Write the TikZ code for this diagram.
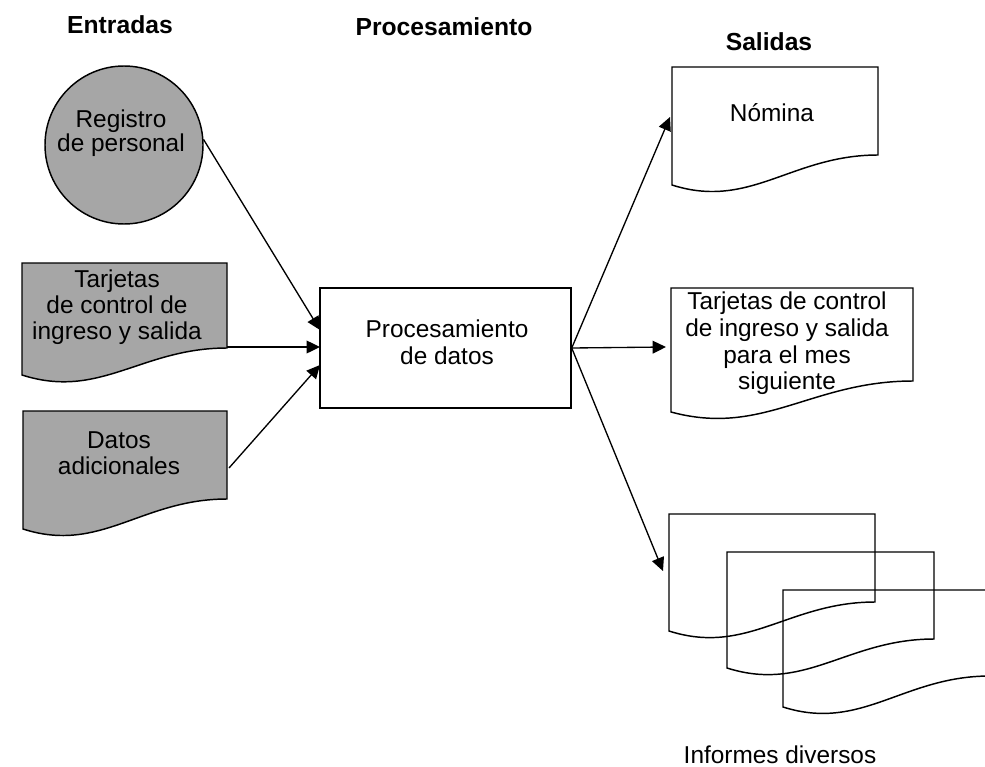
\documentclass[tikz,border=0pt]{standalone}
\usepackage{fontspec}
\setmainfont{Liberation Sans}
\usetikzlibrary{arrows.meta}
\tikzset{
  shapeline/.style={line width=1.1pt, draw=black},
  graydoc/.style={shapeline, fill=gray!70},
  flow/.style={line width=1pt, -{Triangle[length=10pt,width=9.5pt]}},
  body/.style={font=\fontsize{18.3}{20}\selectfont, align=center, inner sep=0pt},
  head/.style={font=\fontsize{18.5}{20}\selectfont\bfseries, inner sep=0pt, anchor=base},
}
% document symbol: x0, ytop, x1, y right bottom, y left bottom
\newcommand\docshape[6][shapeline]{%
  \draw[#1] (#2,#3) -- (#4,#3) -- (#4,#5)
    .. controls ({#2+0.58*(#4-#2)},#5) and ({#2+0.38*(#4-#2)},{#6+25}) .. (#2,#6) -- cycle;}
\begin{document}
\begin{tikzpicture}[x=0.75pt,y=-0.75pt]
\useasboundingbox (0,0) rectangle (985,767);

% headers
\node[head] (hin) at (120,33.4) {Entradas};
\node[head] (hproc) at (444,36) {Procesamiento};
\node[head] (hout) at (769,51) {Salidas};

% inputs
\node[circle, graydoc, minimum size=118.5pt, inner sep=0pt] (reg) at (124,145) {};
\node[body, font=\fontsize{18.3}{18.4}\selectfont] (regt) at (121,133) {Registro\\de personal};

\docshape[graydoc]{22}{263}{227}{348}{375}
\node[body, font=\fontsize{18.3}{19.3}\selectfont] (tin) at (117,307) {Tarjetas\\de control de\\ingreso y salida};
\coordinate (tinR) at (227,347);

\docshape[graydoc]{23}{411}{227}{499}{529}
\node[body, font=\fontsize{18.3}{19.5}\selectfont] (din) at (119,453) {Datos\\adicionales};
\coordinate (dinR) at (229,468);

% process
\node[shapeline, rectangle, minimum width=188.25pt, minimum height=90pt, inner sep=0pt] (proc) at (445.5,348) {};
\node[body] (proct) at (447,342) {Procesamiento\\de datos};
\coordinate (pin1) at (320,330);
\coordinate (pin2) at (320,347);
\coordinate (pin3) at (320,365);

% outputs
\docshape{672}{67}{878}{155}{185}
\node[body, anchor=base] (nom) at (772,122) {Nómina};
\coordinate (nomL) at (670,117);

\docshape{671}{288}{913}{381}{412}
\node[body] (tout) at (787,343.6) {Tarjetas de control\\de ingreso y salida\\para el mes\\siguiente};
\coordinate (toutL) at (666,347);

\begin{scope}
  \clip (0,0) rectangle (985,767);
  \docshape{669}{514}{875}{602}{631}
  \docshape{727}{552}{934}{639}{668}
  \docshape{783}{590}{990}{676}{707}
\end{scope}
\coordinate (infL) at (663,571);
\node[body, anchor=base] (inf) at (780,763) {Informes diversos};

% connectors
\draw[flow] (reg.4) -- (pin1);
\draw[flow] (tinR) -- (pin2);
\draw[flow] (dinR) -- (pin3);
\draw[flow] (proc.east) -- (nomL);
\draw[flow] (proc.east) -- (toutL);
\draw[flow] (proc.east) -- (infL);
\end{tikzpicture}
\end{document}
